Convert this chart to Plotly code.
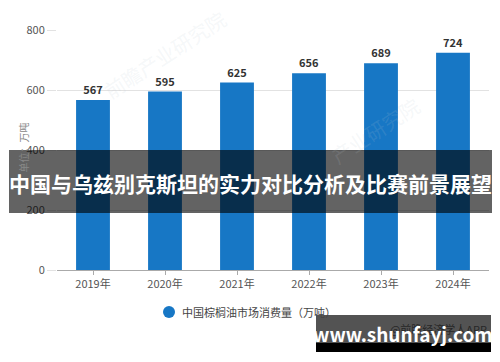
import plotly.graph_objects as go

years = ["2019年", "2020年", "2021年", "2022年", "2023年", "2024年"]
consumption = [567, 595, 625, 656, 689, 724]
series_name = "中国棕榈油市场消费量（万吨）"
y_ticks = [0, 200, 400, 600, 800]
title_text = "中国与乌兹别克斯坦的实力对比分析及比赛前景展望"
site_text = "www.shunfayj.com"
app_text = "@前瞻经济学人APP"

FONT = "Noto Sans CJK SC, Noto Sans, sans-serif"
BLUE = "#1777c5"

fig = go.Figure()
fig.add_trace(go.Bar(
    x=years, y=consumption, width=0.47, marker=dict(color=BLUE, line=dict(width=0)),
    text=[str(v) for v in consumption], textposition="outside",
    textfont=dict(family=FONT, size=11, color="#333333", weight=700),
    cliponaxis=False, showlegend=False, hoverinfo="skip",
))

L, R, T, B = 57, 11, 30, 92
W = 500 - L - R
H = 362 - T - B

def px(x):
    return (x - L) / W

def py(y):
    return (362 - B - y) / H

shapes = []
annotations = []

# faint watermarks
for (x, y, txt) in [(165, 55, "前瞻产业研究院"), (375, 130, "产业研究院")]:
    annotations.append(dict(x=px(x), y=py(y), xref="paper", yref="paper", text=txt,
                            showarrow=False, textangle=-33, xanchor="center", yanchor="middle",
                            font=dict(family=FONT, size=20, color="rgba(190,200,210,0.15)")))

# legend
shapes.append(dict(type="circle", xref="paper", yref="paper", xsizemode="pixel", ysizemode="pixel",
                   xanchor=px(169), yanchor=py(312), x0=-6, x1=6, y0=-6, y1=6,
                   fillcolor=BLUE, line=dict(width=0)))
annotations.append(dict(x=px(180), y=py(312), xref="paper", yref="paper", text=series_name,
                        showarrow=False, xanchor="left", yanchor="middle",
                        font=dict(family=FONT, size=11, color="#444444")))

# y axis unit
annotations.append(dict(x=px(13), y=py(148), xref="paper", yref="paper", text="单位：万吨",
                        showarrow=False, textangle=-90,
                        font=dict(family=FONT, size=10, color="#888888")))

# banner
shapes.append(dict(type="rect", xref="paper", yref="paper", x0=px(9), x1=px(492), y0=py(150), y1=py(213),
                   fillcolor="rgba(0,0,0,0.61)", line=dict(width=0), layer="above"))
annotations.append(dict(x=px(250), y=py(183), xref="paper", yref="paper", text=title_text,
                        showarrow=False, xanchor="center", yanchor="middle",
                        font=dict(family=FONT, size=21, color="white", weight=700)))

# bottom-right site watermark: app credit sits underneath the grey box
shapes.append(dict(type="rect", xref="paper", yref="paper", x0=px(395), x1=px(493), y0=py(323), y1=py(339),
                   fillcolor="rgba(0,0,0,0)", line=dict(width=0), layer="above",
                   label=dict(text=app_text, textposition="middle right",
                              font=dict(family=FONT, size=11, color="#222222"))))
shapes.append(dict(type="rect", xref="paper", yref="paper", x0=px(316), x1=px(491), y0=py(315), y1=py(343),
                   fillcolor="rgba(40,40,40,0.8)", line=dict(width=0), layer="above"))
shapes.append(dict(type="rect", xref="paper", yref="paper", x0=px(316), x1=px(491), y0=py(343), y1=py(352),
                   fillcolor="black", line=dict(width=0), layer="above"))
annotations.append(dict(x=px(403), y=py(333), xref="paper", yref="paper", text=site_text,
                        showarrow=False, xanchor="center", yanchor="middle",
                        font=dict(family=FONT, size=19, color="white", weight=700)))

fig.update_layout(
    width=500, height=362, margin=dict(l=L, r=R, t=T, b=B),
    paper_bgcolor="white", plot_bgcolor="white",
    font=dict(family=FONT, size=11, color="#555555"),
    xaxis=dict(type="category", showline=True, linecolor="#aaaaaa", linewidth=1,
               ticks="outside", ticklen=4, tickcolor="#aaaaaa",
               tickfont=dict(family=FONT, size=11, color="#555555"), showgrid=False),
    yaxis=dict(range=[0, 800], tickvals=y_ticks, showgrid=True, gridcolor="#e2e2e2", gridwidth=1,
               zeroline=False, ticks="outside", ticklen=9, tickcolor="#e2e2e2",
               tickfont=dict(family=FONT, size=11, color="#555555")),
    shapes=shapes, annotations=annotations, showlegend=False,
)

fig.write_html("out.html")
